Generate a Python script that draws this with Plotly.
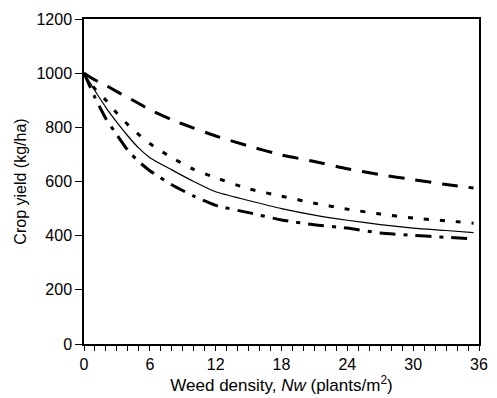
import plotly.graph_objects as go

# Weed density (plants/m2)
weed_density = [0, 1, 2, 3, 4, 5, 6, 8, 10, 12, 15, 18, 21, 24, 27, 30, 33, 35.5]

# Crop yield (kg/ha) for four competition scenarios
yield_dashed = [1000, 975, 955, 932, 910, 888, 865, 828, 797, 768, 731, 698, 674, 647, 625, 607, 589, 576]
yield_dotted = [1000, 942, 900, 852, 810, 773, 740, 688, 645, 614, 573, 546, 520, 498, 480, 465, 455, 446]
yield_solid = [1000, 935, 873, 818, 768, 723, 688, 643, 600, 562, 530, 500, 476, 457, 441, 428, 419, 411]
yield_dashdot = [1000, 910, 832, 772, 715, 673, 640, 588, 546, 512, 485, 458, 440, 428, 410, 401, 394, 388]

x_ticks = [0, 6, 12, 18, 24, 30, 36]
y_ticks = [0, 200, 400, 600, 800, 1000, 1200]

fig = go.Figure()
styles = [
    (yield_dashed, "16px,11px", 3),
    (yield_dotted, "5px,11px", 3),
    (yield_solid, "solid", 1.2),
    (yield_dashdot, "16px,8px,4px,8px", 3),
]
for ys, dash, width in styles:
    fig.add_trace(go.Scatter(
        x=weed_density, y=ys, mode="lines",
        line=dict(color="black", width=width, dash=dash, shape="spline", smoothing=0.6),
        showlegend=False, hoverinfo="skip",
    ))

font = dict(family="Liberation Sans, Arial, sans-serif", color="black")

fig.update_layout(
    width=497, height=398,
    margin=dict(l=84, r=9, t=19, b=52),
    paper_bgcolor="white", plot_bgcolor="white",
    font=dict(size=16, **font),
    xaxis=dict(
        range=[0, 36], tickvals=x_ticks, ticktext=[str(v) for v in x_ticks],
        showgrid=False, zeroline=False,
        showline=True, linecolor="black", linewidth=1.5, mirror=True,
        ticks="outside", ticklen=5, tickwidth=1, tickcolor="black",
        minor=dict(dtick=1, tick0=0, ticks="outside", ticklen=5, tickwidth=1, tickcolor="black"),
        tickfont=dict(size=16, **font),
        title=dict(text="Weed density, <i>Nw</i> (plants/m<sup>2</sup>)", font=dict(size=17, **font), standoff=4),
    ),
    yaxis=dict(
        range=[0, 1200], tickvals=y_ticks, ticktext=[str(v) for v in y_ticks],
        showgrid=False, zeroline=False,
        showline=True, linecolor="black", linewidth=1.5, mirror=True,
        ticks="outside", ticklen=7, tickwidth=1, tickcolor="black",
        tickfont=dict(size=16, **font),
        title=dict(text="Crop yield (kg/ha)", font=dict(size=16, **font), standoff=6),
    ),
)

fig.write_html("out.html")
